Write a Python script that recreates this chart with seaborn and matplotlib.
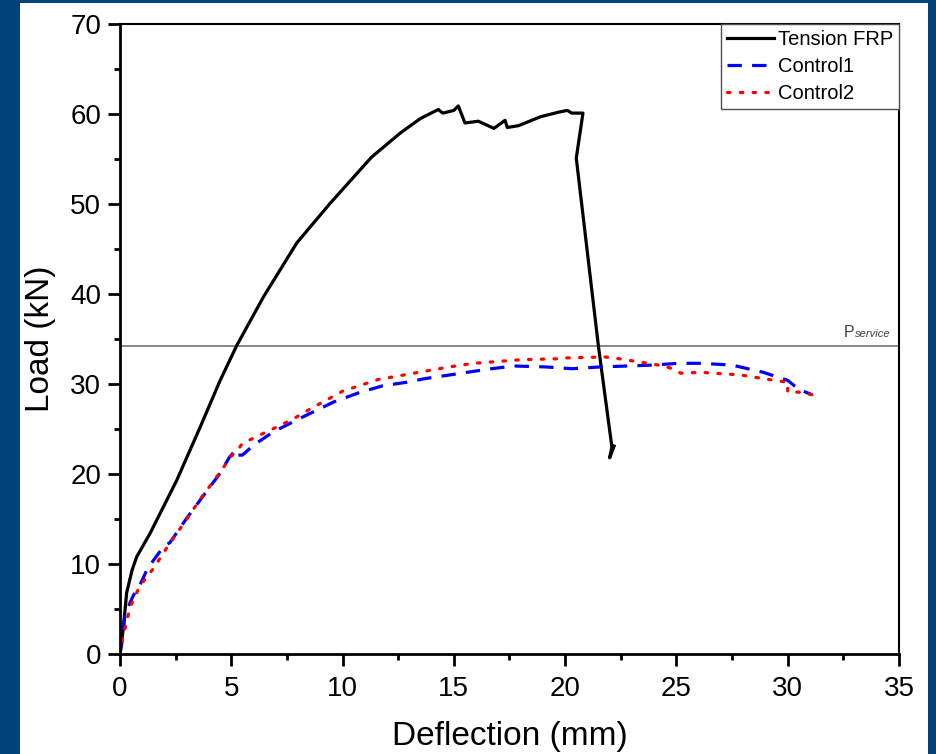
import numpy as np
import pandas as pd
import matplotlib
matplotlib.use('Agg')
import matplotlib.pyplot as plt
import seaborn as sns
from matplotlib.patches import Rectangle

# ---------------datos------------------
frp_x = [0, 0.14, 0.3, 0.54, 0.75, 1.35, 2.55, 3.6, 4.5, 5.25, 6.45, 7.95, 9.45, 11.3,
         12.6, 13.5, 14.3, 14.5, 15.0, 15.2, 15.5, 16.1, 16.8, 17.3, 17.4, 17.9, 18.9,
         19.7, 20.1, 20.3, 20.8, 20.5, 21.5, 22.1, 22.0, 22.2]
frp_y = [0, 2.7, 6.8, 9.3, 10.8, 13.4, 19.3, 25.2, 30.4, 34.3, 39.7, 45.7, 50.1, 55.2,
         57.9, 59.5, 60.5, 60.1, 60.4, 60.9, 59.0, 59.2, 58.4, 59.3, 58.5, 58.7, 59.7,
         60.2, 60.4, 60.1, 60.1, 55.1, 34.1, 23.0, 21.8, 23.1]

c1_x = [0, 0.08, 0.23, 0.6, 0.9, 1.2, 1.5, 1.95, 2.25, 3.0, 3.6, 4.5, 4.9, 5.2, 5.3, 5.5,
        6.0, 6.9, 8.1, 9.6, 10.7, 11.8, 12.9, 13.7, 14.8, 15.6, 16.7, 17.7, 19.1, 20.3,
        21.6, 22.8, 23.9, 25.1, 26.1, 27.5, 28.9, 30.0, 30.5, 31.1]
c1_y = [0, 1.2, 4.5, 6.5, 7.7, 9.3, 10.4, 11.9, 12.4, 15.1, 17.1, 20.1, 21.8, 22.7, 22.1, 22.1,
        23.2, 24.7, 26.2, 28.0, 29.0, 29.8, 30.2, 30.6, 31.0, 31.3, 31.7, 32.0, 31.9, 31.7,
        31.9, 32.0, 32.1, 32.3, 32.3, 32.1, 31.3, 30.4, 29.4, 28.8]

c2_x = [0, 0.1, 0.45, 0.9, 1.5, 2.1, 3.0, 3.6, 4.5, 5.0, 5.3, 5.5, 6.6, 7.7, 8.6, 10.0,
        11.6, 13.2, 14.8, 15.9, 18.0, 19.6, 20.1, 21.8, 22.2, 23.2, 24.2, 24.7, 25.2,
        26.1, 27.9, 29.4, 30.0, 30.0, 30.5, 31.3]
c2_y = [0, 1.5, 5.2, 7.6, 9.5, 11.8, 15.0, 17.2, 20.2, 22.0, 22.7, 23.4, 24.7, 26.0, 27.3, 29.2,
        30.5, 31.2, 31.9, 32.3, 32.7, 32.8, 32.9, 33.0, 32.9, 32.5, 32.1, 31.8, 31.2,
        31.3, 31.0, 30.4, 30.2, 29.1, 29.1, 28.7]

p_service = 34.2

# ---------------figura------------------
plt.rcParams['font.family'] = ['Liberation Sans', 'DejaVu Sans']
fig = plt.figure(figsize=(9.37, 7.54), dpi=100, facecolor='#04437a')
fig.patches.append(Rectangle((20 / 937, 0), 908 / 937, 751 / 754, transform=fig.transFigure,
                             facecolor='white', edgecolor='none', zorder=-5))
ax = fig.add_axes([120 / 937, 100 / 754, 779 / 937, 630 / 754])

df_frp = pd.DataFrame({'x': frp_x, 'y': frp_y})
df_c1 = pd.DataFrame({'x': c1_x, 'y': c1_y})
df_c2 = pd.DataFrame({'x': c2_x, 'y': c2_y})

dash_c1 = (0, (4.5, 3.2))
dot_c2 = (0, (0.8, 3.2))

sns.lineplot(data=df_frp, x='x', y='y', sort=False, estimator=None, color='black',
             lw=2.3, label='Tension FRP', ax=ax)
sns.lineplot(data=df_c1, x='x', y='y', sort=False, estimator=None, color='blue',
             lw=2.3, label='Control1', ax=ax)
sns.lineplot(data=df_c2, x='x', y='y', sort=False, estimator=None, color='red',
             lw=2.3, label='Control2', ax=ax)
ax.lines[1].set_linestyle(dash_c1)
ax.lines[2].set_linestyle(dot_c2)
ax.lines[2].set_dash_capstyle('round')

ax.axhline(p_service, color='0.45', lw=1.2, zorder=1)
ax.annotate('service', xy=(34.6, 35.2), ha='right', va='baseline', fontsize=8,
            style='italic', color='0.25')
ax.annotate('P', xy=(34.6, 35.2), xytext=(-25.5, 0), textcoords='offset points',
            ha='right', va='baseline', fontsize=11.5, color='0.25')

ax.set_xlim(0, 35)
ax.set_ylim(0, 70)
ax.set_xticks(np.arange(0, 36, 5))
ax.set_yticks(np.arange(0, 71, 10))
ax.set_xticks(np.arange(2.5, 35, 5), minor=True)
ax.set_yticks(np.arange(5, 70, 10), minor=True)
ax.tick_params(which='major', direction='out', length=8.5, width=2, labelsize=20, pad=5)
ax.tick_params(axis='x', which='major', pad=7)
ax.tick_params(which='minor', direction='out', length=4.5, width=2)
for s in ['left', 'bottom']:
    ax.spines[s].set_linewidth(2)
for s in ['top', 'right']:
    ax.spines[s].set_linewidth(1.5)

ax.set_xlabel('Deflection (mm)', fontsize=24, labelpad=14)
ax.set_ylabel('Load (kN)', fontsize=24, labelpad=10)

L = ax.legend(loc='upper right', borderaxespad=0., fontsize=14.5, handlelength=2.3,
              handletextpad=0.2, labelspacing=0.4, borderpad=0.3, fancybox=False,
              framealpha=1, edgecolor='0.3')
L.get_frame().set_linewidth(1)
for h in L.get_lines():
    h.set_linewidth(2.3)
L.get_lines()[1].set_linestyle(dash_c1)
L.get_lines()[2].set_linestyle(dot_c2)

plt.savefig('out.png', dpi=100, facecolor=fig.get_facecolor())
